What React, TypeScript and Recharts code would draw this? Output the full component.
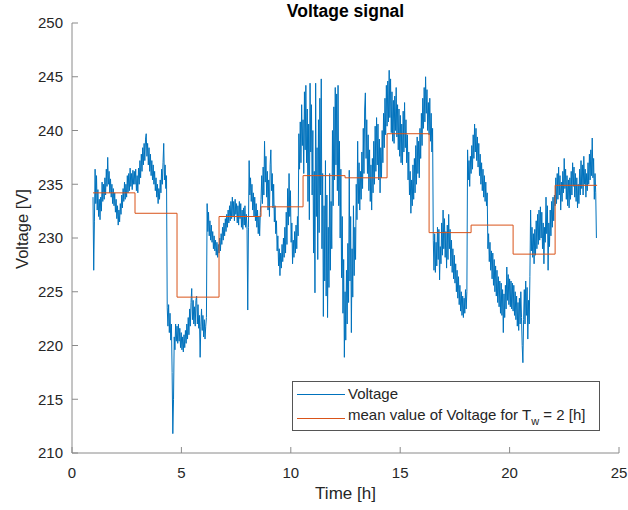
import { LineChart, Line, XAxis, YAxis } from "recharts";

// MATLAB-style figure: voltage measurement with 2 h window means

const FONT = '"Liberation Sans", Arial, Helvetica, sans-serif';
const AXIS = "#8a8a8a";
const TEXT = "#262626";
const BLUE = "#0072BD";
const ORANGE = "#D95319";

const xTicks = [0, 5, 10, 15, 20, 25];
const yTicks = [210, 215, 220, 225, 230, 235, 240, 245, 250];

// signal samples, one array per 2 h window (60 samples each)
const START = 0.96;
const STEP = 0.032;
const w1 = [233.8, 227.0, 231.5, 236.4, 233.2, 235.8, 232.6, 234.5, 232.0, 233.6, 231.7, 233.8, 232.5, 235.2, 233.4, 235.0, 233.6, 235.6, 234.0, 236.4, 234.8, 237.5, 235.0, 236.2, 234.2, 235.5, 233.8, 235.0, 233.2, 234.6, 233.0, 234.2, 232.4, 233.6, 231.8, 233.0, 231.2, 232.6, 231.5, 233.2, 232.2, 234.0, 232.8, 234.6, 233.4, 235.2, 233.6, 235.0, 233.8, 235.8, 234.2, 236.0, 234.4, 236.5, 234.8, 236.0, 234.5, 236.3, 235.0, 236.2];
const w2 = [235.0, 236.4, 234.4, 235.8, 234.2, 236.5, 235.0, 237.2, 235.6, 237.8, 236.2, 238.4, 236.8, 238.8, 237.2, 239.2, 239.7, 237.6, 238.8, 236.8, 238.4, 236.2, 237.8, 235.8, 237.2, 235.4, 236.8, 235.0, 236.2, 234.4, 235.6, 233.8, 235.0, 233.2, 234.6, 233.6, 235.4, 234.2, 236.4, 235.0, 237.0, 238.8, 235.4, 236.8, 234.6, 235.8, 223.5, 221.8, 223.8, 221.2, 223.0, 220.5, 222.0, 217.5, 211.8, 215.0, 220.8, 219.6, 222.0, 220.4];
const w3 = [221.8, 220.2, 222.0, 220.4, 221.6, 219.8, 221.2, 219.6, 220.8, 219.4, 221.0, 219.8, 221.4, 220.2, 222.0, 220.6, 222.6, 221.0, 223.4, 221.8, 224.0, 225.3, 222.4, 224.2, 222.0, 223.6, 221.8, 224.2, 224.6, 222.0, 223.8, 221.6, 222.8, 218.9, 221.8, 223.4, 221.4, 222.8, 220.8, 222.4, 220.6, 221.8, 222.6, 233.2, 230.6, 232.4, 230.2, 231.6, 229.8, 231.2, 229.6, 230.6, 229.0, 230.2, 228.8, 229.8, 228.4, 229.6, 228.2, 229.4];
const w4 = [228.6, 230.0, 228.8, 230.4, 229.4, 231.0, 229.8, 231.4, 230.2, 231.8, 230.6, 232.2, 231.0, 232.6, 231.4, 233.0, 231.6, 233.4, 231.8, 233.8, 232.0, 233.4, 231.6, 233.6, 232.2, 233.2, 231.4, 233.0, 231.2, 233.4, 231.8, 233.2, 231.0, 232.6, 230.8, 232.8, 231.2, 233.0, 231.0, 232.2, 230.8, 223.3, 231.0, 237.2, 234.0, 235.6, 233.4, 235.0, 232.6, 234.2, 232.0, 233.8, 231.6, 233.2, 231.0, 232.6, 230.4, 232.0, 230.2, 232.4];
const w5 = [233.6, 235.8, 233.2, 236.6, 234.0, 239.0, 235.2, 237.6, 233.8, 236.2, 232.6, 235.4, 232.0, 236.8, 238.2, 234.4, 236.0, 232.8, 235.0, 231.5, 233.0, 230.4, 231.6, 228.8, 230.2, 227.4, 229.0, 226.5, 228.6, 227.2, 229.4, 227.8, 230.0, 228.2, 231.0, 228.6, 232.4, 229.4, 234.6, 231.2, 236.0, 232.0, 234.4, 229.6, 231.4, 227.6, 229.8, 228.2, 230.6, 228.6, 231.2, 229.0, 232.0, 230.2, 239.7, 236.4, 240.8, 237.0, 242.4, 238.6];
const w6 = [241.0, 236.0, 243.6, 238.2, 244.2, 237.0, 242.0, 233.4, 240.6, 231.7, 244.4, 238.0, 242.4, 234.0, 240.0, 228.6, 236.2, 224.9, 244.4, 232.0, 238.4, 228.0, 241.0, 230.5, 243.0, 234.0, 244.8, 229.0, 236.0, 222.7, 233.0, 226.0, 237.2, 224.6, 234.0, 222.6, 231.0, 225.4, 236.0, 227.0, 233.4, 229.0, 240.0, 233.0, 242.2, 235.4, 244.0, 236.8, 243.4, 234.4, 244.2, 233.0, 239.0, 230.0, 236.4, 226.3, 232.0, 223.0, 228.0, 218.9];
const w7 = [225.0, 220.5, 227.0, 222.0, 229.5, 224.0, 236.3, 226.0, 232.0, 221.2, 229.0, 224.5, 233.0, 226.5, 231.0, 228.0, 235.0, 231.7, 239.0, 233.2, 237.0, 232.6, 236.2, 233.6, 238.0, 234.6, 240.2, 236.0, 242.0, 243.5, 237.4, 241.0, 236.0, 239.6, 234.4, 238.2, 233.4, 236.8, 232.6, 237.4, 234.2, 239.0, 235.0, 240.4, 236.2, 241.2, 236.8, 240.6, 235.4, 239.2, 234.2, 238.4, 235.6, 240.0, 237.0, 241.6, 238.4, 243.0, 239.6, 244.2];
const w8 = [240.4, 244.6, 240.8, 245.6, 241.2, 244.8, 239.8, 243.6, 239.0, 242.8, 238.8, 243.2, 240.0, 244.0, 239.4, 242.4, 238.2, 242.0, 237.6, 241.4, 237.0, 240.6, 236.8, 241.8, 238.0, 242.6, 238.4, 241.0, 237.0, 239.6, 235.4, 238.0, 234.0, 236.2, 232.3, 235.4, 233.0, 236.8, 233.6, 237.4, 234.2, 238.6, 235.0, 239.4, 236.0, 239.0, 235.6, 240.2, 237.4, 241.6, 238.6, 243.0, 240.2, 244.0, 240.8, 245.0, 241.6, 243.8, 240.0, 242.6];
const w9 = [239.6, 243.0, 239.0, 241.6, 238.0, 240.2, 229.8, 227.0, 230.4, 226.8, 229.6, 227.4, 231.0, 228.0, 230.8, 226.1, 229.2, 227.6, 231.4, 228.4, 232.6, 229.0, 231.8, 228.2, 230.6, 227.2, 231.2, 228.0, 232.2, 229.0, 230.8, 227.4, 229.8, 226.8, 229.0, 226.2, 228.4, 225.8, 227.6, 225.0, 227.0, 224.4, 226.4, 223.8, 225.6, 223.2, 225.0, 222.8, 224.6, 222.6, 224.4, 223.0, 225.2, 223.4, 225.0, 238.2, 235.4, 237.2, 234.8, 237.6];
const w10 = [236.0, 238.6, 236.4, 239.6, 237.4, 240.6, 238.0, 240.2, 237.2, 239.4, 236.6, 238.8, 235.8, 237.8, 235.0, 237.0, 234.4, 236.4, 233.8, 235.8, 233.4, 235.2, 233.0, 234.2, 229.0, 230.4, 227.8, 229.6, 227.0, 228.8, 226.2, 228.6, 225.6, 228.0, 225.0, 227.4, 224.6, 227.0, 224.0, 226.4, 223.6, 226.0, 223.0, 225.8, 222.8, 225.2, 221.2, 224.8, 222.6, 225.6, 223.4, 227.3, 224.2, 226.6, 223.8, 226.2, 223.6, 226.0, 223.4, 225.8];
const w11 = [223.2, 225.6, 222.8, 225.0, 222.4, 224.6, 221.8, 224.0, 221.4, 224.4, 222.0, 225.0, 222.6, 220.0, 218.4, 222.4, 225.2, 222.0, 226.0, 222.8, 225.4, 220.6, 224.2, 222.0, 226.4, 232.6, 228.8, 231.0, 228.2, 230.4, 227.6, 230.8, 228.4, 231.6, 229.0, 232.2, 229.4, 232.6, 229.8, 232.9, 230.0, 232.4, 229.0, 231.4, 227.6, 231.0, 229.6, 233.8, 230.4, 233.0, 227.0, 231.4, 229.2, 232.6, 230.2, 233.4, 231.0, 233.8, 231.6, 234.0];
const w12 = [233.0, 235.6, 233.2, 236.0, 233.6, 236.6, 234.0, 235.8, 232.6, 235.2, 233.4, 236.2, 234.2, 237.4, 234.6, 236.4, 233.6, 235.8, 233.0, 235.4, 232.8, 235.6, 233.6, 236.2, 234.0, 237.0, 234.8, 236.6, 233.8, 236.0, 233.4, 235.6, 232.8, 235.0, 233.2, 236.4, 234.0, 237.2, 234.6, 236.8, 234.0, 237.6, 235.0, 236.4, 233.8, 236.0, 234.4, 237.0, 235.0, 237.8, 235.4, 238.2, 235.8, 239.3, 235.6, 237.4, 233.6, 236.0, 234.2, 230.0];

const voltage = [...w1, ...w2, ...w3, ...w4, ...w5, ...w6, ...w7, ...w8, ...w9, ...w10, ...w11, ...w12];
const signalData = voltage.map((v, i) => ({ t: START + i * STEP, v }));

// window means (Tw = 2 h), last point closes the final step
const meanTimes = [0.96, 2.88, 4.8, 6.72, 8.64, 10.56, 12.48, 14.4, 16.32, 18.24, 20.16, 22.08, 24.0];
const meanValues = [234.2, 232.3, 224.5, 232.0, 232.9, 235.8, 235.6, 239.7, 230.5, 231.2, 228.5, 234.9, 234.9];
const meanData = meanTimes.map((t, i) => ({ t, v: meanValues[i] }));

const TL = 6; // inward tick length

const BottomTick = ({ x, y, payload }: any) => (
  <g>
    <line x1={x} x2={x} y1={y} y2={y - TL} stroke={AXIS} />
    <text x={x} y={y + 25} textAnchor="middle" fill={TEXT} fontSize={15} fontFamily={FONT}>
      {payload.value}
    </text>
  </g>
);

const LeftTick = ({ x, y, payload }: any) => (
  <g>
    <line x1={x} x2={x + TL} y1={y} y2={y} stroke={AXIS} />
    <text x={x - 9} y={y} dy="0.35em" textAnchor="end" fill={TEXT} fontSize={15} fontFamily={FONT}>
      {payload.value}
    </text>
  </g>
);

const TopTick = ({ x, y }: any) => <line x1={x} x2={x} y1={y} y2={y + TL} stroke={AXIS} />;
const RightTick = ({ x, y }: any) => <line x1={x} x2={x - TL} y1={y} y2={y} stroke={AXIS} />;

const legendRows = [
  { color: BLUE, label: <>Voltage</> },
  {
    color: ORANGE,
    label: (
      <>
        mean value of Voltage for T<sub style={{ fontSize: 11, verticalAlign: "-5px" }}>w</sub> = 2 [h]
      </>
    ),
  },
];

function LegendBox() {
  return (
    <div
      style={{
        position: "absolute",
        left: 292,
        top: 381,
        width: 306,
        height: 48,
        border: "1px solid #555",
        background: "#fff",
        fontSize: 15,
        color: TEXT,
      }}
    >
      {legendRows.map((r, i) => (
        <div key={i} style={{ position: "absolute", left: 0, top: 2 + i * 24, height: 20, display: "flex", alignItems: "center", whiteSpace: "nowrap" }}>
          <div style={{ width: 48, height: 1, marginLeft: 4, marginRight: 3, background: r.color }} />
          <span style={{ lineHeight: "20px" }}>{r.label}</span>
        </div>
      ))}
    </div>
  );
}

export default function App() {
  return (
    <div style={{ position: "absolute", left: 0, top: 0, width: 628, height: 510, background: "#fff", fontFamily: FONT }}>
      <LineChart width={628} height={510} data={signalData} margin={{ top: 23, right: 9, bottom: 27, left: 22 }}>
        <XAxis
          dataKey="t"
          type="number"
          domain={[0, 25]}
          ticks={xTicks}
          interval={0}
          allowDataOverflow
          height={30}
          tickSize={0}
          tickMargin={0}
          tickLine={false}
          axisLine={{ stroke: AXIS }}
          tick={<BottomTick />}
        />
        <XAxis
          xAxisId="top"
          orientation="top"
          dataKey="t"
          type="number"
          domain={[0, 25]}
          ticks={xTicks}
          interval={0}
          allowDataOverflow
          height={0}
          tickSize={0}
          tickMargin={0}
          tickLine={false}
          axisLine={{ stroke: AXIS }}
          tick={<TopTick />}
        />
        <YAxis
          type="number"
          domain={[210, 250]}
          ticks={yTicks}
          interval={0}
          allowDataOverflow
          width={50}
          tickSize={0}
          tickMargin={0}
          tickLine={false}
          axisLine={{ stroke: AXIS }}
          tick={<LeftTick />}
        />
        <YAxis
          yAxisId="right"
          orientation="right"
          type="number"
          domain={[210, 250]}
          ticks={yTicks}
          interval={0}
          allowDataOverflow
          width={0}
          tickSize={0}
          tickMargin={0}
          tickLine={false}
          axisLine={{ stroke: AXIS }}
          tick={<RightTick />}
        />
        <Line
          data={signalData}
          dataKey="v"
          type="linear"
          stroke={BLUE}
          strokeWidth={1}
          dot={false}
          activeDot={false}
          isAnimationActive={false}
        />
        <Line
          data={meanData}
          dataKey="v"
          type="stepAfter"
          stroke={ORANGE}
          strokeWidth={1}
          dot={false}
          activeDot={false}
          isAnimationActive={false}
        />
      </LineChart>
      <LegendBox />
      <div style={{ position: "absolute", left: 72, width: 547, top: 1, lineHeight: "20px", textAlign: "center", fontSize: 17.5, fontWeight: "bold", color: "#000" }}>
        Voltage signal
      </div>
      <div style={{ position: "absolute", left: 72, width: 547, top: 484, lineHeight: "20px", textAlign: "center", fontSize: 17, color: TEXT }}>
        Time [h]
      </div>
      <div
        style={{
          position: "absolute",
          left: 22 - 60,
          top: 229 - 10,
          width: 120,
          lineHeight: "20px",
          textAlign: "center",
          fontSize: 16.5,
          color: TEXT,
          transform: "rotate(-90deg)",
        }}
      >
        Voltage [V]
      </div>
    </div>
  );
}
